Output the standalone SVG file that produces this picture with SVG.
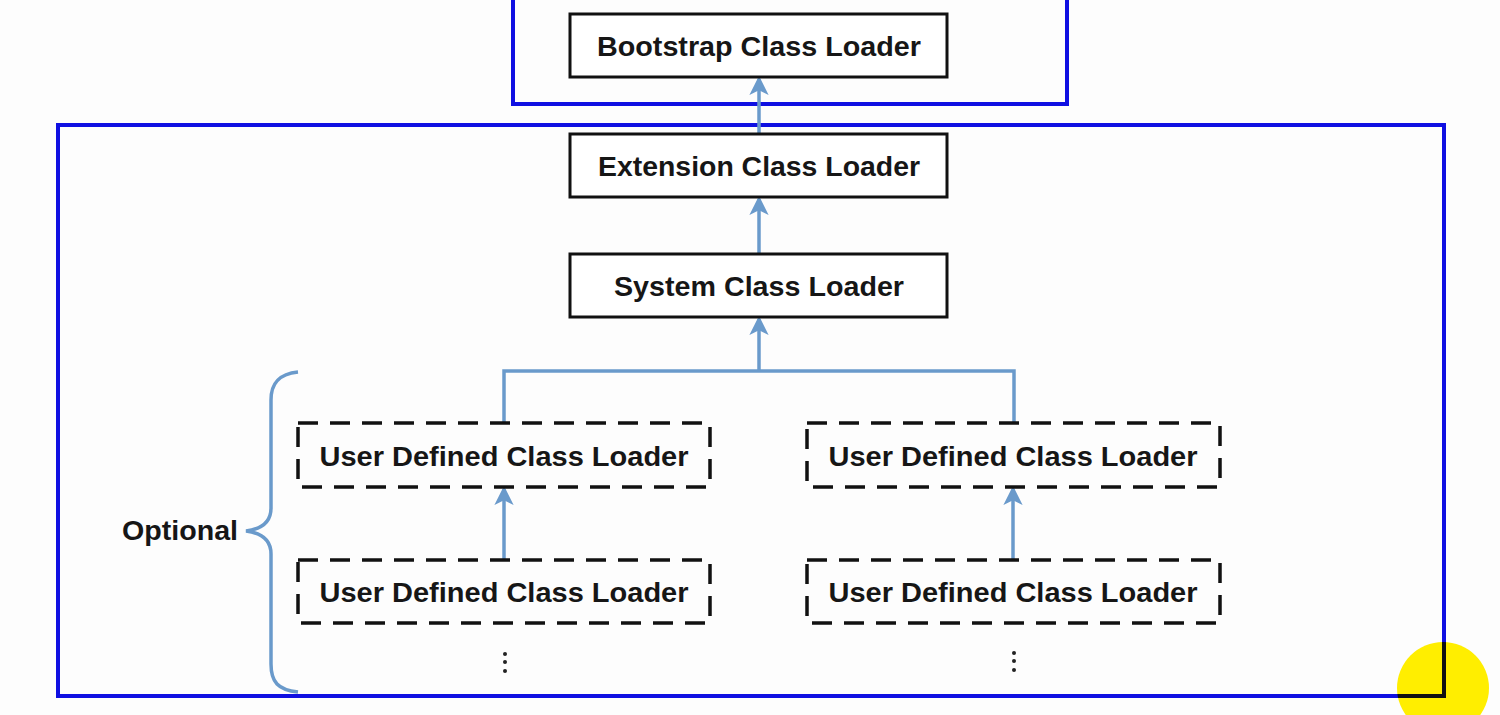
<svg xmlns="http://www.w3.org/2000/svg" width="1500" height="715" viewBox="0 0 1500 715">
<defs>
<style>
.frame{fill:none;stroke:#0f0fe2;stroke-width:4}
.box{fill:#fff;stroke:#111;stroke-width:3}
.dbox{fill:none;stroke:#111;stroke-width:3.5;stroke-dasharray:20 12}
.lbl{font-family:"Liberation Sans",Arial,sans-serif;font-weight:bold;font-size:28px;fill:#161616;text-anchor:middle;dominant-baseline:central}
.con{fill:none;stroke:#6a9acb;stroke-width:3.5}
.arr{marker-end:url(#ah)}
</style>
<marker id="ah" viewBox="0 0 12 12" refX="10" refY="6" markerWidth="5.5" markerHeight="5.5" orient="auto" markerUnits="strokeWidth">
<path d="M0,0 L12,6 L0,12 L3,6 Z" fill="#6a9acb"/>
</marker>
<clipPath id="cc"><circle cx="1443" cy="688" r="46"/></clipPath>
</defs>
<rect width="1500" height="715" fill="#fdfdfd"/>
<circle id="cursor" cx="1443" cy="688" r="46" fill="#ffee00"/>
<g id="frames">
<rect class="frame" x="513" y="-10" width="554" height="114"/>
<rect class="frame" x="58" y="125" width="1386" height="571"/>
<rect x="58" y="125" width="1386" height="571" fill="none" stroke="#111" stroke-width="4" clip-path="url(#cc)"/>
</g>
<g id="connectors">
<path class="con arr" d="M759,134 V79"/>
<path class="con arr" d="M759,254 V199"/>
<path class="con arr" d="M759,371 V319"/>
<path class="con" d="M504,423 V371 H1014 V423"/>
<path class="con arr" d="M504,560 V489"/>
<path class="con arr" d="M1013,560 V489"/>
<path class="con" d="M298,372 C278,374 271,384 271,400 V508 C271,522 262,529 246,531 C262,533 271,540 271,554 V664 C271,682 278,690 298,692"/>
</g>
<g id="bootstrap"><rect class="box" x="570" y="14" width="377" height="63"/><text class="lbl" x="759" y="46" textLength="324" lengthAdjust="spacingAndGlyphs">Bootstrap Class Loader</text></g>
<g id="extension"><rect class="box" x="570" y="134" width="377" height="63"/><text class="lbl" x="759" y="166" textLength="322" lengthAdjust="spacingAndGlyphs">Extension Class Loader</text></g>
<g id="system"><rect class="box" x="570" y="254" width="377" height="63"/><text class="lbl" x="759" y="286" textLength="290" lengthAdjust="spacingAndGlyphs">System Class Loader</text></g>
<g id="user1"><rect class="dbox" x="298" y="423" width="412" height="64"/><text class="lbl" x="504" y="456" textLength="369" lengthAdjust="spacingAndGlyphs">User Defined Class Loader</text></g>
<g id="user2"><rect class="dbox" x="807" y="423" width="413" height="64"/><text class="lbl" x="1013" y="456" textLength="369" lengthAdjust="spacingAndGlyphs">User Defined Class Loader</text></g>
<g id="user3"><rect class="dbox" x="298" y="560" width="412" height="63"/><text class="lbl" x="504" y="592" textLength="369" lengthAdjust="spacingAndGlyphs">User Defined Class Loader</text></g>
<g id="user4"><rect class="dbox" x="807" y="560" width="413" height="63"/><text class="lbl" x="1013" y="592" textLength="369" lengthAdjust="spacingAndGlyphs">User Defined Class Loader</text></g>
<g id="dots1"><circle cx="505" cy="654" r="2" fill="#222"/><circle cx="505" cy="662" r="2" fill="#222"/><circle cx="505" cy="671" r="2" fill="#222"/></g>
<g id="dots2"><circle cx="1014" cy="653" r="2" fill="#222"/><circle cx="1014" cy="661" r="2" fill="#222"/><circle cx="1014" cy="670" r="2" fill="#222"/></g>
<g id="optional"><text class="lbl" x="180" y="530" textLength="116" lengthAdjust="spacingAndGlyphs">Optional</text></g>
</svg>
